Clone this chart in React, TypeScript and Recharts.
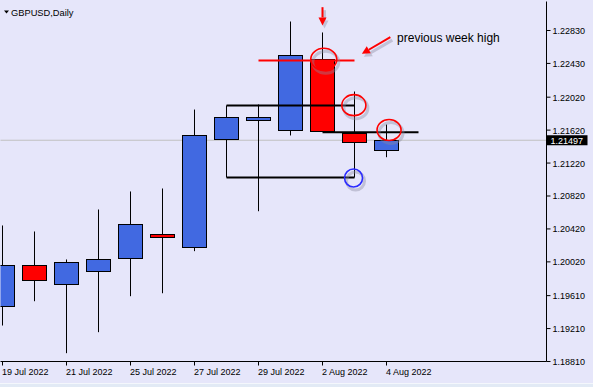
import React from 'react';
import { ComposedChart, Bar, XAxis, YAxis, ReferenceLine, ReferenceDot } from 'recharts';

// ---- data ----
const dates = ['19 Jul 2022', '20 Jul 2022', '21 Jul 2022', '22 Jul 2022', '25 Jul 2022', '26 Jul 2022', '27 Jul 2022', '28 Jul 2022', '29 Jul 2022', '1 Aug 2022', '2 Aug 2022', '3 Aug 2022', '4 Aug 2022'];
const opens = [1.19486, 1.19984, 1.19754, 1.19912, 1.20069, 1.20361, 1.20203, 1.21515, 1.21745, 1.21624, 1.22486, 1.21588, 1.21381];
const highs = [1.20462, 1.20389, 1.20049, 1.20656, 1.20875, 1.20911, 1.21870, 1.21919, 1.21931, 1.22939, 1.22806, 1.22089, 1.21688];
const lows = [1.19247, 1.19542, 1.18911, 1.19166, 1.19603, 1.19639, 1.20150, 1.21045, 1.20635, 1.21555, 1.21600, 1.21045, 1.21291];
const closes = [1.19984, 1.19802, 1.20021, 1.20057, 1.20482, 1.20324, 1.21563, 1.21782, 1.21782, 1.22535, 1.21607, 1.21478, 1.21497];

const xTickIdx = [0, 2, 4, 6, 8, 10, 12];
const yTicks = [1.1881, 1.1921, 1.1961, 1.2002, 1.2042, 1.2082, 1.2122, 1.2162, 1.2202, 1.2243, 1.2283];
const currentPrice = 1.21497;
const title = 'GBPUSD,Daily';
const noteText = 'previous week high';

// annotation levels (index, price)
const prevWeekHigh = { from: 8, to: 11, price: 1.22466 };
const rangeHigh = { from: 7, to: 11, price: 1.21919 };
const rangeLow = { from: 7, to: 11, price: 1.21045 };
const closeLevel = { from: 10, to: 13, price: 1.21595 };
const redRings = [
  { x: 10.04, y: 1.2248, rx: 13, ry: 11 },
  { x: 10.98, y: 1.21923, rx: 12, ry: 10.5 },
  { x: 12.08, y: 1.21622, rx: 12, ry: 10.5 },
];
const blueRings = [{ x: 10.97, y: 1.21039, rx: 9, ry: 9 }];
const downArrow = { x1: 10, y1: 1.23113, x2: 10, y2: 1.22891 };
const slantArrow = { x1: 12.12, y1: 1.22749, x2: 11.23, y2: 1.22547 };
const notePos = { x: 12.33, y: 1.22741 };

const data = dates.map((d, i) => ({ i, date: d, o: opens[i], h: highs[i], l: lows[i], c: closes[i] }));

const FONT = "'Liberation Sans', Arial, sans-serif";
const BG = '#E6E6FA';
const UP = '#4169E1';
const DOWN = '#FF0000';

const Candle = (props: any) => {
  const { x, y, width, height, payload } = props;
  if (x == null || y == null || !payload) return null;
  const { o, h, l, c } = payload;
  const top = Math.min(y, y + height);
  const bot = Math.max(y, y + height);
  const span = h - l || 1e-9;
  const py = (p: number) => top + ((h - p) / span) * (bot - top);
  const cx = Math.round(x + width / 2 - 0.5) + 0.5;
  const up = c >= o;
  const bt = Math.round(py(Math.max(o, c))) + 0.5;
  let bb = Math.round(py(Math.min(o, c))) + 0.5;
  if (bb - bt < 2) bb = bt + 2;
  return (
    <g>
      <line x1={cx} x2={cx} y1={py(h)} y2={py(l)} stroke="#000" strokeWidth={1} />
      <rect x={cx - 12} y={bt} width={24} height={bb - bt} fill={up ? UP : DOWN} stroke="#000" strokeWidth={1} />
    </g>
  );
};

const XTick = (props: any) => {
  const { x, y, payload } = props;
  return (
    <text x={x - 0.5} y={y + 7.5} fontSize={9} fontFamily={FONT} fill="#000" textAnchor="start">
      {dates[payload.value]}
    </text>
  );
};

const YTick = (props: any) => {
  const { x, y, payload } = props;
  return (
    <text x={x} y={y + 3.5} fontSize={9} fontFamily={FONT} fill="#000" textAnchor="start">
      {Number(payload.value).toFixed(5)}
    </text>
  );
};

const PriceTag = (props: any) => {
  const vb = props.viewBox || {};
  const vx = (vb.x || 0) + (vb.width || 0);
  const vy = vb.y || 0;
  return (
    <g>
      <rect x={vx} y={vy - 5} width={41} height={10} fill="#000" />
      <text x={vx + 4} y={vy + 3.5} fontSize={9} fontFamily={FONT} fill="#fff">
        {currentPrice.toFixed(5)}
      </text>
    </g>
  );
};

const ringShape = (rx: number, ry: number, color: string) => (p: any) => (
  <g>
    <ellipse cx={p.cx + 2} cy={p.cy + 3} rx={rx} ry={ry} fill="none" stroke="#8a8aa0" strokeOpacity={0.4} strokeWidth={3} />
    <ellipse cx={p.cx} cy={p.cy} rx={rx} ry={ry} fill="none" stroke={color} strokeWidth={1.6} />
  </g>
);

const arrowShape = (p: any) => {
  const x1 = Number(p.x1), y1 = Number(p.y1), x2 = Number(p.x2), y2 = Number(p.y2);
  const dx = x2 - x1, dy = y2 - y1;
  const len = Math.sqrt(dx * dx + dy * dy) || 1;
  const ux = dx / len, uy = dy / len;
  const nx = -uy, ny = ux;
  const L = 8, W = 4;
  const bx = x2 - ux * L, by = y2 - uy * L;
  const head = (ox: number, oy: number) =>
    `${x2 + ox},${y2 + oy} ${bx + nx * W + ox},${by + ny * W + oy} ${bx - nx * W + ox},${by - ny * W + oy}`;
  return (
    <g>
      <line x1={x1 + 2} y1={y1 + 3} x2={bx + 2} y2={by + 3} stroke="#8a8aa0" strokeOpacity={0.4} strokeWidth={3} />
      <polygon points={head(2, 3)} fill="#8a8aa0" fillOpacity={0.4} />
      <line x1={x1} y1={y1} x2={bx} y2={by} stroke={DOWN} strokeWidth={2} />
      <polygon points={head(0, 0)} fill={DOWN} />
    </g>
  );
};

const noteShape = (p: any) => (
  <text x={p.cx} y={p.cy + 4} fontSize={12} fontFamily={FONT} fill="#000">
    {noteText}
  </text>
);

export default function App() {
  return (
    <div style={{ position: 'fixed', left: 0, top: 0, width: 593, height: 387, background: BG, overflow: 'hidden' }}>
      <ComposedChart
        width={593}
        height={387}
        data={data}
        margin={{ top: 1.5, right: 0, bottom: 0, left: 0.5 }}
      >
        <XAxis
          dataKey="i"
          type="number"
          domain={[-0.0625, 17]}
          allowDataOverflow
          ticks={xTickIdx}
          interval={0}
          height={25.5}
          tickSize={4}
          tickMargin={2}
          tick={<XTick />}
          axisLine={{ stroke: '#000' }}
          tickLine={{ stroke: '#000' }}
        />
        <XAxis xAxisId="top" orientation="top" type="number" domain={[0, 1]} height={0} tick={false} tickLine={false} axisLine={{ stroke: '#000' }} />
        <YAxis
          orientation="right"
          type="number"
          domain={[1.1881, 1.23182]}
          allowDataOverflow
          ticks={yTicks}
          interval={0}
          width={46.5}
          tickSize={4}
          tickMargin={2}
          tick={<YTick />}
          axisLine={{ stroke: '#000' }}
          tickLine={{ stroke: '#000' }}
        />
        <YAxis yAxisId="left" orientation="left" type="number" domain={[0, 1]} width={0} tick={false} tickLine={false} axisLine={{ stroke: '#000' }} />

        <ReferenceLine y={currentPrice} stroke="#C0C0C0" strokeWidth={1} label={<PriceTag />} zIndex={-1} />

        <Bar
          dataKey={(d: any) => [d.l, d.h]}
          barSize={24}
          shape={(p: any) => <Candle {...p} />}
          isAnimationActive={false}
        />

        <ReferenceLine segment={[{ x: rangeHigh.from, y: rangeHigh.price }, { x: rangeHigh.to, y: rangeHigh.price }]} stroke="#000" strokeWidth={2} />
        <ReferenceLine segment={[{ x: rangeLow.from, y: rangeLow.price }, { x: rangeLow.to, y: rangeLow.price }]} stroke="#000" strokeWidth={2} />
        <ReferenceLine segment={[{ x: closeLevel.from, y: closeLevel.price }, { x: closeLevel.to, y: closeLevel.price }]} stroke="#000" strokeWidth={2} />
        <ReferenceLine segment={[{ x: prevWeekHigh.from, y: prevWeekHigh.price }, { x: prevWeekHigh.to, y: prevWeekHigh.price }]} stroke={DOWN} strokeWidth={2} />

        {redRings.map((r, k) => (
          <ReferenceDot key={'r' + k} x={r.x} y={r.y} r={0} shape={ringShape(r.rx, r.ry, DOWN)} />
        ))}
        {blueRings.map((r, k) => (
          <ReferenceDot key={'b' + k} x={r.x} y={r.y} r={0} shape={ringShape(r.rx, r.ry, '#2B2BFF')} />
        ))}

        <ReferenceLine segment={[{ x: downArrow.x1, y: downArrow.y1 }, { x: downArrow.x2, y: downArrow.y2 }]} shape={arrowShape} />
        <ReferenceLine segment={[{ x: slantArrow.x1, y: slantArrow.y1 }, { x: slantArrow.x2, y: slantArrow.y2 }]} shape={arrowShape} />
        <ReferenceDot x={notePos.x} y={notePos.y} r={0} shape={noteShape} />
      </ComposedChart>

      <svg width={120} height={20} style={{ position: 'absolute', left: 0, top: 0, pointerEvents: 'none' }}>
        <polygon points="4,10.5 9,10.5 6.5,13.5" fill="#000" />
        <text x={11} y={16} fontSize={9.3} fontFamily={FONT} fill="#000">{title}</text>
      </svg>
      <div style={{ position: 'absolute', left: 0, top: 383, width: 593, height: 4, background: '#E2EAF5', borderTop: '1px solid #F4F7FC' }} />
    </div>
  );
}
